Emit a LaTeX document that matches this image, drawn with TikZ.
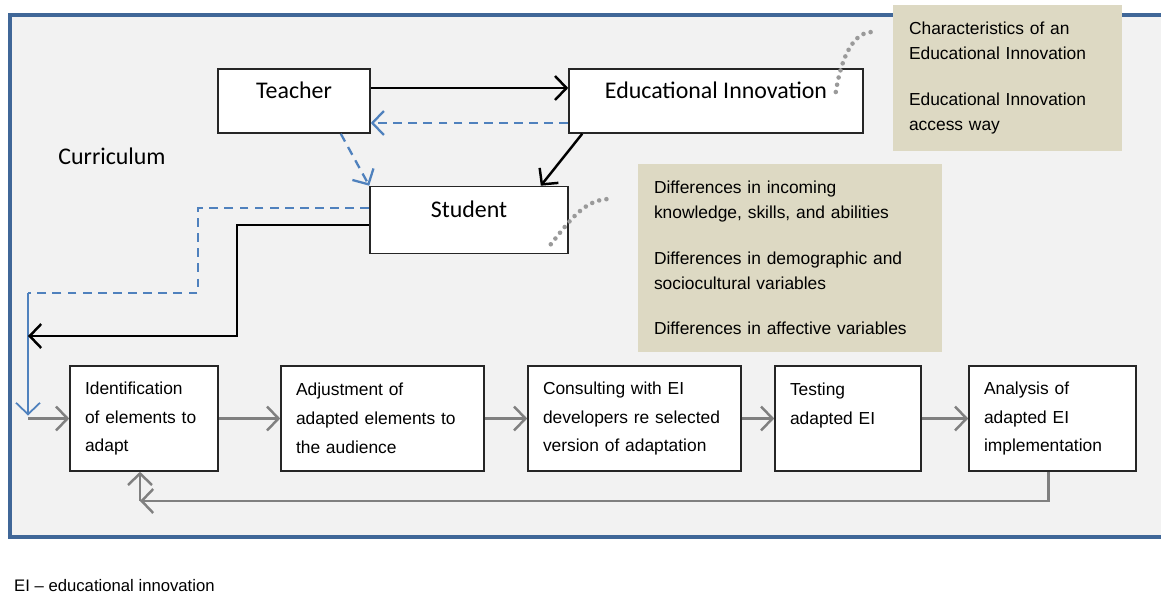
\documentclass[tikz,border=0pt]{standalone}
\usepackage{fontspec}
\setmainfont{Liberation Sans}
\newfontfamily\calibri{Carlito}
\usepackage{xcolor}
\usepackage{tikz}
\usetikzlibrary{arrows.meta, positioning, calc}
\definecolor{frameBlue}{RGB}{64,103,152}
\definecolor{lineBlue}{RGB}{79,129,189}
\definecolor{tanFill}{RGB}{221,217,195}
\definecolor{paneGray}{RGB}{242,242,242}
\definecolor{arrowGray}{RGB}{128,128,128}
\tikzstyle{arrow} = [-{Straight Barb[length=2.3mm, width=4.8mm]}]

\begin{document}
\begin{tikzpicture}[
  actor/.style={draw=black!85, line width=0.9pt, fill=white, inner ysep=0.1cm, text height=0.5cm, text depth=0.58cm, font=\calibri\fontsize{13.6}{16}\selectfont},
  stepbox/.style={draw=black!85, line width=0.9pt, fill=white, inner xsep=0.3cm, minimum height=2.1cm, align=left, font=\fontsize{9.9}{16.4}\selectfont},
  notebox/.style={fill=tanFill, inner xsep=0.32cm, align=left, font=\fontsize{9.9}{14.2}\selectfont},
  solidflow/.style={arrow, line width=1.4pt, black},
  dashflow/.style={line width=1.3pt, lineBlue, dash pattern=on 5pt off 3.6pt},
  stepflow/.style={arrow, line width=1.4pt, arrowGray},
  callout/.style={line width=2.6pt, arrowGray!80, dash pattern=on 0pt off 4.2pt, line cap=round}
]
\useasboundingbox (0,0) rectangle (23.22,-11.9);

% Curriculum frame
\draw[line width=2.3pt, frameBlue, fill=paneGray] (0.2,-0.3) rectangle (23.6,-10.74);
\node[font=\calibri\fontsize{13.6}{16}\selectfont] (curr) at (2.24,-3.12) {Curriculum};

% Notes
\node[notebox, text width=3.94cm, minimum height=2.92cm] (charbox) at (20.15,-1.56)
  {Characteristics of an\\Educational Innovation\\[0.42cm]Educational Innovation\\access way};
\node[notebox, text width=5.44cm, minimum height=3.76cm] (diffbox) at (15.8,-5.16)
  {Differences in incoming\\knowledge, skills, and abilities\\[0.42cm]Differences in demographic and\\sociocultural variables\\[0.4cm]Differences in affective variables};

% Actors
\node[actor, minimum width=3.04cm] (teacher) at (5.88,-2.02) {Teacher};
\node[actor, minimum width=5.88cm] (innov) at (14.32,-2.02) {Educational Innovation};
\node[actor, minimum width=3.96cm, text height=0.52cm, text depth=0.62cm] (student) at (9.38,-4.40) {Student};

% Adaptation steps
\node[stepbox, text width=2.36cm] (ident) at (2.88,-8.37) {Identification\\of elements to\\adapt};
\node[stepbox, text width=3.46cm] (adjust) at (7.65,-8.37) {Adjustment of\\adapted elements to\\the audience};
\node[stepbox, text width=3.66cm] (consult) at (12.69,-8.37) {Consulting with EI\\developers re selected\\version of adaptation};
\node[stepbox, text width=2.32cm] (testing) at (16.96,-8.37) {Testing\\adapted EI\\~};
\node[stepbox, text width=2.74cm] (analysis) at (21.05,-8.37) {Analysis of\\adapted EI\\implementation};

% Bends and free ends
\coordinate (bendA) at (4.74,-6.72);
\coordinate (back) at (0.56,-6.72);
\coordinate (bendB) at (3.96,-5.86);
\coordinate (entrytop) at (0.56,-5.86);
\coordinate (entry) at (0.56,-8.37);
\coordinate (fb) at (2.8,-10.02);
\coordinate (charend) at (17.44,-0.64);
\coordinate (diffend) at (12.2,-3.98);

% Arrows between actors
\draw[solidflow] ([yshift=0.26cm]teacher.east) -- ([yshift=0.26cm]innov.west);
\draw[dashflow, arrow] ([yshift=-0.44cm]innov.west) -- ([yshift=-0.44cm]teacher.east);
\draw[solidflow] ([xshift=0.28cm]innov.south west) -- ([xshift=-0.56cm]student.north east);
\draw[dashflow, arrow] ([xshift=-0.6cm]teacher.south east) -- (student.north west);

% Student to steps
\draw[dashflow] ([yshift=0.24cm]student.west) -| (bendB) -- (entrytop);
\draw[arrow, line width=1pt, lineBlue] (entrytop) -- ([yshift=0.06cm]entry);
\draw[solidflow] ([yshift=-0.1cm]student.west) -| (bendA) -- (back);

% Steps
\draw[stepflow] (entry) -- (ident.west);
\draw[stepflow] (ident) -- (adjust);
\draw[stepflow] (adjust) -- (consult);
\draw[stepflow] (consult) -- (testing);
\draw[stepflow] (testing) -- (analysis);
\draw[stepflow] ([xshift=-0.08cm]analysis.south) |- (fb);
\draw[stepflow] (fb) -- (ident.south -| fb);

% Callouts
\draw[callout] ([xshift=-0.56cm,yshift=0.18cm]innov.east) .. controls +(0.12,0.75) and +(-0.35,0) .. (charend);
\draw[callout] ([xshift=-0.36cm,yshift=0.2cm]student.south east) .. controls +(0.4,0.5) and +(-0.5,0) .. (diffend);

% Footnote
\node[anchor=west, font=\fontsize{9.5}{11}\selectfont] (note) at (0.16,-11.72) {EI -- educational innovation};
\end{tikzpicture}
\end{document}
